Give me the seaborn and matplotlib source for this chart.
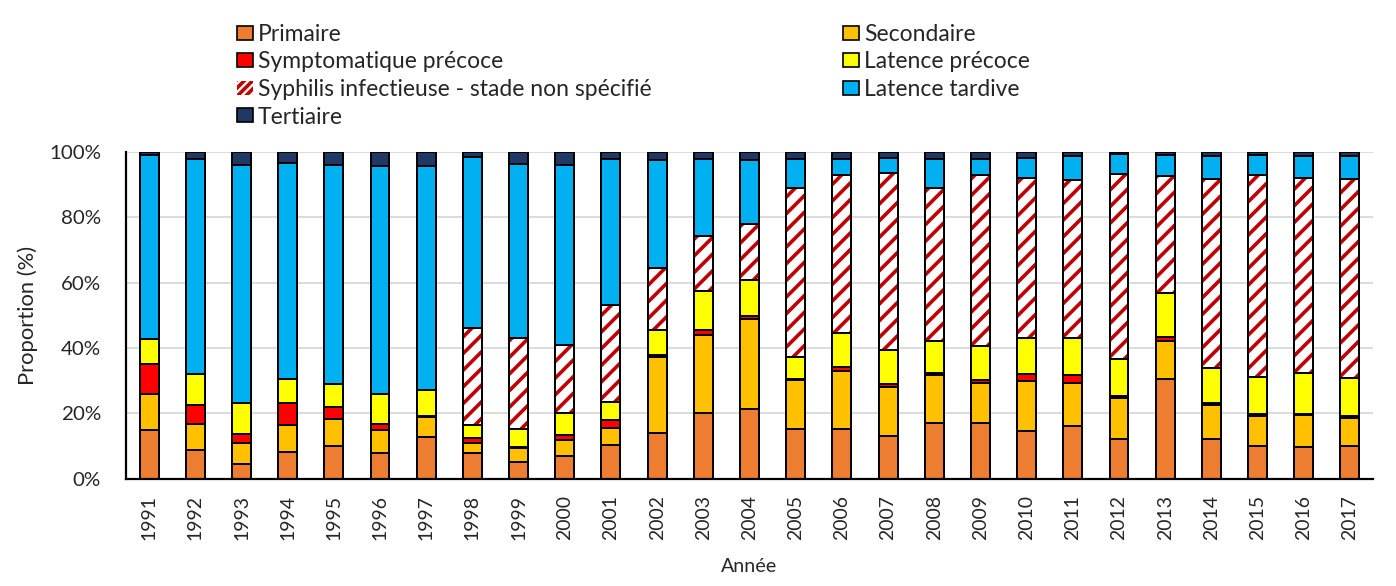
import numpy as np
import pandas as pd
import seaborn as sns
import matplotlib.pyplot as plt
from matplotlib.patches import Patch

years = [str(y) for y in range(1991, 2018)]

# proportions (%), bottom to top
primaire = [14.8, 8.7, 4.4, 8.1, 9.9, 7.7, 12.7, 7.7, 5.1, 6.9, 10.2, 14.0, 20.1, 21.2,
            15.3, 15.3, 13.0, 17.0, 17.0, 14.6, 16.1, 12.0, 30.4, 12.0, 9.9, 9.7, 9.9]
secondaire = [11.2, 8.1, 6.6, 8.2, 8.3, 7.1, 6.2, 3.2, 4.1, 5.0, 5.4, 23.2, 23.8, 27.6,
              14.8, 17.7, 14.9, 14.6, 12.1, 15.2, 13.2, 12.7, 11.6, 10.4, 9.3, 9.7, 8.7]
sympt_precoce = [9.2, 5.6, 2.6, 6.9, 3.8, 1.8, 0.3, 1.5, 0.3, 1.4, 2.2, 0.5, 1.5, 1.0,
                 0.3, 1.2, 1.0, 0.6, 1.0, 2.3, 2.5, 0.5, 1.2, 0.6, 0.5, 0.3, 0.4]
latence_precoce = [7.4, 9.7, 9.6, 7.2, 7.0, 9.3, 7.8, 3.9, 5.8, 6.8, 5.5, 7.9, 12.0, 10.9,
                   6.8, 10.5, 10.4, 9.8, 10.4, 11.0, 11.3, 11.5, 13.6, 10.9, 11.4, 12.7, 11.9]
non_specifie = [0, 0, 0, 0, 0, 0, 0, 29.8, 27.6, 20.9, 29.8, 19.0, 16.9, 17.4,
                51.9, 48.2, 54.4, 47.1, 52.6, 48.9, 48.2, 56.7, 35.9, 57.9, 62.0, 59.7, 60.9]
latence_tardive = [56.4, 65.7, 72.7, 66.2, 66.9, 69.7, 68.6, 52.4, 53.5, 54.9, 44.9, 32.8, 23.7, 19.3,
                   8.7, 5.1, 4.6, 8.7, 4.9, 6.2, 7.4, 5.9, 6.3, 7.0, 5.9, 6.6, 7.0]
tertiaire = [1.0, 2.2, 4.1, 3.4, 4.1, 4.4, 4.4, 1.5, 3.6, 4.1, 2.0, 2.6, 2.0, 2.6,
             2.2, 2.0, 1.7, 2.2, 2.0, 1.8, 1.3, 0.7, 1.0, 1.2, 1.0, 1.3, 1.2]

labels = ["Primaire", "Secondaire", "Symptomatique précoce", "Latence précoce",
          "Syphilis infectieuse - stade non spécifié", "Latence tardive", "Tertiaire"]
colors = ["#ED7D31", "#FFC000", "#FF0000", "#FFFF00", "white", "#00B0F0", "#1F3864"]
series = [primaire, secondaire, sympt_precoce, latence_precoce, non_specifie,
          latence_tardive, tertiaire]

df = pd.DataFrame({lab: vals for lab, vals in zip(labels, series)}, index=years)
cum = df.cumsum(axis=1)

sns.set_style("white")
plt.rcParams["font.family"] = ["Lato", "DejaVu Sans"]
plt.rcParams["hatch.linewidth"] = 2.6

W, H, DPI = 13.96, 5.86, 100
fig = plt.figure(figsize=(W, H), dpi=DPI)
renderer = fig.canvas.get_renderer()


def fit_size(text, px):
    # font size (pt) so that text is about px pixels wide
    t = fig.text(0, 0, text, fontsize=10)
    w = t.get_window_extent(renderer).width
    t.remove()
    return 10 * px / w


fs_leg = fit_size(labels[4], 394)
fs_xt = fit_size("1991", 45)
fs_yt = fit_size("100%", 52)
fs_ylab = fit_size("Proportion (%)", 140)
fs_xlab = fit_size("Année", 56)

ax = fig.add_axes([126 / 1396, 1 - 478.5 / 586, 1247 / 1396, 326.5 / 586])

bw = 0.41
lw = 1.4
# draw cumulative totals from the top series down, each one covering the ones before
for i in range(len(labels) - 1, -1, -1):
    lab = labels[i]
    if lab.startswith("Syphilis"):
        sns.barplot(x=years, y=cum[lab].values, color="white", width=bw, ax=ax,
                    hatch="//", edgecolor="#C00000", linewidth=0, saturation=1)
        sns.barplot(x=years, y=cum[lab].values, width=bw, ax=ax, fill=False,
                    edgecolor="black", linewidth=lw)
    else:
        sns.barplot(x=years, y=cum[lab].values, color=colors[i], width=bw, ax=ax,
                    edgecolor="black", linewidth=lw, saturation=1)

ax.set_ylim(0, 100)
ax.set_xlim(-0.5, len(years) - 0.5)
ax.set_yticks(np.arange(0, 101, 20))
ax.set_yticklabels([f"{v}%" for v in range(0, 101, 20)], fontsize=fs_yt)
ax.yaxis.grid(True, color="#D9D9D9", linewidth=1.3)
ax.set_axisbelow(True)
ax.tick_params(axis="y", length=0, pad=18)
ax.tick_params(axis="x", which="major", length=0, labelrotation=90, labelsize=fs_xt, pad=12)
ax.set_xticks(np.arange(-0.5, len(years), 1), minor=True)
ax.tick_params(axis="x", which="minor", length=6, width=1.5, color="black", direction="out")
for s in ["top", "right"]:
    ax.spines[s].set_visible(False)
for s in ["left", "bottom"]:
    ax.spines[s].set_color("black")
    ax.spines[s].set_linewidth(1.6)
ax.set_ylabel("Proportion (%)", fontsize=fs_ylab, labelpad=8)
ax.set_xlabel("Année", fontsize=fs_xlab, labelpad=13)

handles = []
for lab, col in zip(labels, colors):
    if lab.startswith("Syphilis"):
        handles.append(Patch(facecolor="white", edgecolor="#C00000", hatch="////", linewidth=0))
    else:
        handles.append(Patch(facecolor=col, edgecolor="black", linewidth=1.2))

# legend row geometry in pixels
fs_px = fs_leg * DPI / 72
t = fig.text(0, 0, "Primaire", fontsize=fs_leg)
row_h = t.get_window_extent(renderer).height
t.remove()
row_step = 27.5
top_px = 34.5 - row_h / 2

left_idx = [0, 2, 4, 6]
right_idx = [1, 3, 5]
common = dict(frameon=False, fontsize=fs_leg, handlelength=16 / fs_px, handleheight=13 / fs_px,
              handletextpad=5 / fs_px, labelspacing=(row_step - row_h) / fs_px,
              borderaxespad=0, borderpad=0)
fig.legend([handles[i] for i in left_idx], [labels[i] for i in left_idx],
           loc="upper left", bbox_to_anchor=(237 / 1396, 1 - top_px / 586), **common)
fig.legend([handles[i] for i in right_idx], [labels[i] for i in right_idx],
           loc="upper left", bbox_to_anchor=(843 / 1396, 1 - top_px / 586), **common)

fig.savefig("out.png", dpi=DPI)
